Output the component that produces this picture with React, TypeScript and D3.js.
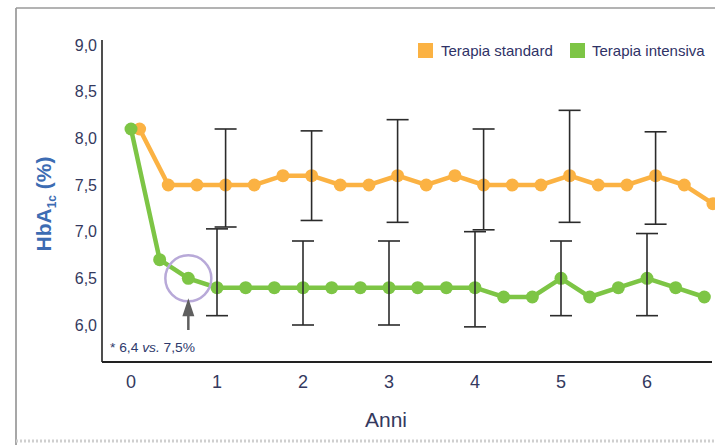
import React from "react";
import * as d3 from "d3";

const steps = d3.range(21); // 4-month visits, 0 .. 20
const standardValues = [8.1, 7.5, 7.5, 7.5, 7.5, 7.6, 7.6, 7.5, 7.5, 7.6, 7.5, 7.6, 7.5, 7.5, 7.5, 7.6, 7.5, 7.5, 7.6, 7.5, 7.3];
const intensiveValues = [8.1, 6.7, 6.5, 6.4, 6.4, 6.4, 6.4, 6.4, 6.4, 6.4, 6.4, 6.4, 6.4, 6.3, 6.3, 6.5, 6.3, 6.4, 6.5, 6.4, 6.3];
const barYears = [1, 2, 3, 4, 5, 6];
const standardHigh = [8.1, 8.08, 8.2, 8.1, 8.3, 8.07];
const standardLow = [7.05, 7.12, 7.1, 7.02, 7.1, 7.08];
const intensiveHigh = [7.03, 6.9, 6.9, 7.0, 6.9, 6.98];
const intensiveLow = [6.1, 6.0, 6.0, 5.98, 6.1, 6.1];
const xTicks = [0, 1, 2, 3, 4, 5, 6];
const yTicks = [6.0, 6.5, 7.0, 7.5, 8.0, 8.5, 9.0];
const legendLabels = ["Terapia standard", "Terapia intensiva"];

const ORANGE = "#FBB243";
const GREEN = "#7DC545";
const TEXT = "#34395E";
const FONT = "'Liberation Sans', Arial, Helvetica, sans-serif";

export default function App() {
  const x = d3.scaleLinear().domain([0, 6]).range([131, 647]);
  const y = d3.scaleLinear().domain([6, 9]).range([325, 45]);
  const offset = 0.1;
  const tOf = (i: number) => i / 3;

  const lineStd = d3.line<number>().x((d, i) => x(tOf(i) + offset)).y((d) => y(d));
  const lineInt = d3.line<number>().x((d, i) => x(tOf(i))).y((d) => y(d));

  const cap = 11;
  const fmt = (v: number) => v.toFixed(1).replace(".", ",");

  const errBar = (xc: number, hi: number, lo: number, key: string) => (
    <g key={key} stroke="#2b2b2b" strokeWidth={1.6}>
      <line x1={xc} x2={xc} y1={y(hi)} y2={y(lo)} />
      <line x1={xc - cap} x2={xc + cap} y1={y(hi)} y2={y(hi)} />
      <line x1={xc - cap} x2={xc + cap} y1={y(lo)} y2={y(lo)} />
    </g>
  );

  const ax = x(tOf(2));
  const ay = y(intensiveValues[2]);

  return (
    <div style={{ position: "absolute", left: 0, top: 0 }}>
      <svg width={715} height={445} style={{ display: "block", background: "#fff" }} fontFamily={FONT}>
        {/* frame */}
        <line x1={16} x2={16} y1={8} y2={445} stroke="#8a8a8a" strokeWidth={1.5} />
        <line x1={16} x2={715} y1={8} y2={8} stroke="#9a9a9a" strokeWidth={1.5} />
        <line x1={16} x2={715} y1={441} y2={441} stroke="#cfcfcf" strokeWidth={3} strokeDasharray="2 2" />

        {/* axes */}
        <line x1={102} x2={102} y1={40} y2={362} stroke="#222" strokeWidth={1.6} />
        <line x1={102} x2={712} y1={362} y2={362} stroke="#222" strokeWidth={1.8} />

        {yTicks.map((t) => (
          <text key={t} x={97} y={y(t)} dy="0.35em" textAnchor="end" fontSize={16} fill={TEXT}>
            {fmt(t)}
          </text>
        ))}
        {xTicks.map((t) => (
          <text key={t} x={x(t)} y={382} dy="0.35em" textAnchor="middle" fontSize={18} fill={TEXT}>
            {t}
          </text>
        ))}
        <text x={365} y={420} dy="0.35em" fontSize={21} fill={TEXT} textLength={42} lengthAdjust="spacingAndGlyphs">
          Anni
        </text>
        <text transform="translate(51,204) rotate(-90)" textAnchor="middle" fontSize={21} fill="#3D6CB3" fontWeight="bold">
          HbA<tspan fontSize={12} dy={5}>1c</tspan>
          <tspan dy={-5}> (%)</tspan>
        </text>

        {/* series lines */}
        <path d={lineStd(standardValues) || ""} fill="none" stroke={ORANGE} strokeWidth={4.5} />
        <path d={lineInt(intensiveValues) || ""} fill="none" stroke={GREEN} strokeWidth={4.5} />
        {steps.map((i) => (
          <circle key={"s" + i} cx={x(tOf(i) + offset)} cy={y(standardValues[i])} r={6.5} fill={ORANGE} />
        ))}
        {steps.map((i) => (
          <circle key={"g" + i} cx={x(tOf(i))} cy={y(intensiveValues[i])} r={6.5} fill={GREEN} />
        ))}

        {/* error bars */}
        {barYears.map((yr, i) => errBar(x(yr + offset), standardHigh[i], standardLow[i], "es" + yr))}
        {barYears.map((yr, i) => errBar(x(yr), intensiveHigh[i], intensiveLow[i], "ei" + yr))}

        {/* annotation */}
        <circle cx={ax} cy={ay} r={23} fill="none" stroke="#B8A9D8" strokeWidth={2.5} />
        <line x1={ax} x2={ax} y1={330} y2={308} stroke="#5f5f5f" strokeWidth={2.5} />
        <path d={`M${ax},${ay + 20} L${ax - 6},${ay + 38} L${ax + 6},${ay + 38} Z`} fill="#5f5f5f" />
        <text x={110} y={347} dy="0.35em" fontSize={13} fill="#2E3A6C" textLength={85} lengthAdjust="spacingAndGlyphs">
          * 6,4 <tspan fontStyle="italic">vs.</tspan> 7,5%
        </text>

        {/* legend */}
        <rect x={418} y={43} width={15} height={15} fill={ORANGE} />
        <text x={441} y={51} dy="0.35em" fontSize={15} fill="#2F3266">
          {legendLabels[0]}
        </text>
        <rect x={570} y={43} width={15} height={15} fill={GREEN} />
        <text x={592} y={51} dy="0.35em" fontSize={15} fill="#2F3266">
          {legendLabels[1]}
        </text>
      </svg>
    </div>
  );
}
